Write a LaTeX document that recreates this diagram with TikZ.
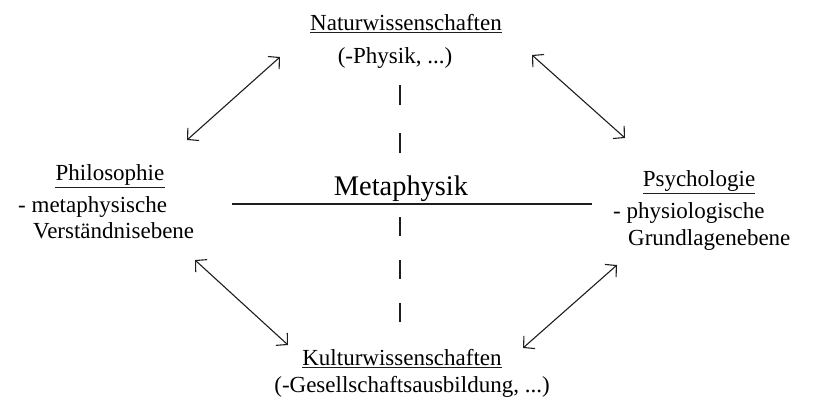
\documentclass[tikz,border=0pt]{standalone}
\usepackage{fontspec}
\setmainfont{Liberation Serif}
\usetikzlibrary{arrows.meta}
\definecolor{ink}{RGB}{30,30,30}
\begin{document}
\begin{tikzpicture}[x=1pt,y=-1pt,
  txt/.style={inner sep=0pt, text=black, font=\fontsize{23}{27}\selectfont},
  big/.style={inner sep=0pt, text=black, font=\fontsize{28.4}{33}\selectfont},
  barb/.tip={Straight Barb[length=8pt,width=17pt,line width=1.1pt]},
  link/.style={draw=ink, line width=1.1pt, barb-barb},
  uline/.style={draw=ink, line width=1.2pt},
  hline/.style={draw=ink, line width=1.4pt},
  axisup/.style={draw=ink, line width=1.6pt, dash pattern=on 20pt off 28pt},
  axisdown/.style={draw=ink, line width=1.6pt, dash pattern=on 19pt off 24pt}]
\useasboundingbox (0,0) rectangle (819,416);

% texts
\node[txt, anchor=base] (nat) at (406,30) {Naturwissenschaften};
\node[txt, anchor=base] (natsub) at (395,63) {(-Physik, ...)};
\node[txt, anchor=base] (phil) at (110,180) {Philosophie};
\node[txt, anchor=base west] (phil1) at (18,212) {- metaphysische};
\node[txt, anchor=base west] (phil2) at (33,238) {Verständnisebene};
\node[txt, anchor=base] (psy) at (699,186) {Psychologie};
\node[txt, anchor=base west] (psy1) at (613,218) {- physiologische};
\node[txt, anchor=base west] (psy2) at (628,245) {Grundlagenebene};
\node[txt, anchor=base] (kul) at (402,365) {Kulturwissenschaften};
\node[txt, anchor=base] (kulsub) at (412,392) {(-Gesellschaftsausbildung, ...)};
\node[big, anchor=base] (meta) at (401,195) {Metaphysik};

% underlines
\foreach \n in {nat,phil,psy,kul}
  \draw[uline] ([yshift=-2pt]\n.south west) -- ([yshift=-2pt]\n.south east);

% metaphysics line and axis
\coordinate (hl) at (232,204);
\coordinate (hr) at (592,204);
\draw[hline] (hl) -- (hr);
\coordinate (au1) at (400,85);
\coordinate (au2) at (400,153);
\coordinate (ad1) at (400,217);
\coordinate (ad2) at (400,325);
\draw[axisup] (au1) -- (au2);
\draw[axisdown] (ad1) -- (ad2);

% arrows
\coordinate (tl1) at (187,140); \coordinate (tl2) at (280,57);
\coordinate (tr1) at (532,55);  \coordinate (tr2) at (625,138);
\coordinate (bl1) at (195,260); \coordinate (bl2) at (288,345);
\coordinate (br1) at (523,348); \coordinate (br2) at (617,265);
\draw[link] (tl1) -- (tl2);
\draw[link] (tr1) -- (tr2);
\draw[link] (bl1) -- (bl2);
\draw[link] (br1) -- (br2);
\end{tikzpicture}
\end{document}
